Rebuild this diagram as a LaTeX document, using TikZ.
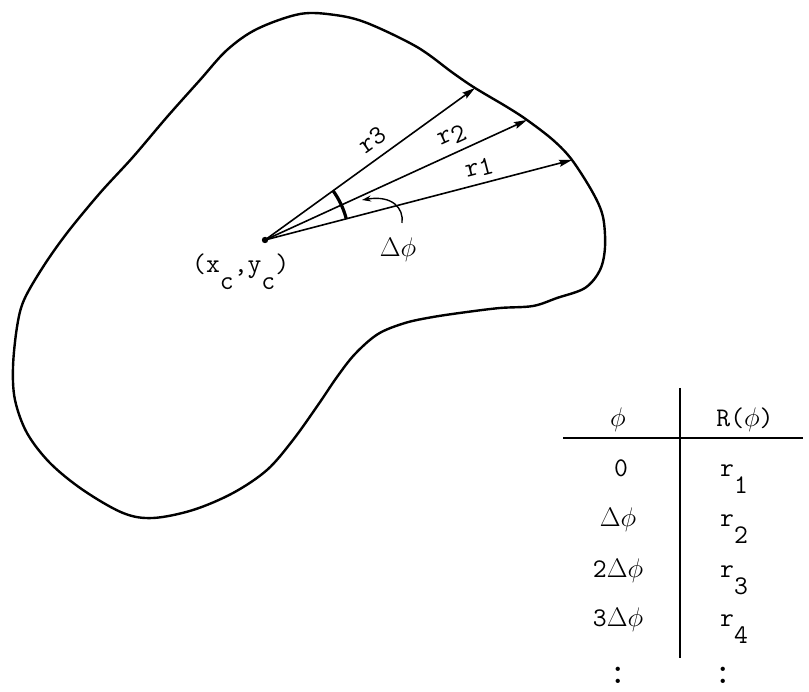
\documentclass[tikz,border=0pt]{standalone}
\usepackage{fix-cm}
\usetikzlibrary{arrows.meta}
\newcommand{\lowsub}[1]{\raisebox{-0.6em}{#1}}
\begin{document}
\begin{tikzpicture}[x=1bp,y=1bp,
  outline/.style={line width=2.4bp, line join=round},
  ray/.style={line width=1.6bp, -{Stealth[length=13bp,width=7bp,inset=2bp]}},
  lbl/.style={font=\fontsize{27}{32}\selectfont\ttfamily, inner sep=0pt},
  dotsstyle/.style={font=\fontsize{38}{44}\selectfont\ttfamily, inner sep=0pt},
  rule/.style={line width=2.4bp},
]
\useasboundingbox (0,0) rectangle (809,692);
% outline of the region
\draw[outline] plot[smooth cycle, tension=0.55] coordinates {
 (300,678) (335,677) (367,669) (417,645) (453,619) (475,604) (507,585)
 (527,572) (553,552) (572,532) (593,499) (603,475) (605,445) (600,422)
 (585,404) (557,394) (533,386) (500,384) (467,380) (433,375) (405,369)
 (378,358) (355,338) (337,315) (318,287) (293,252) (267,222) (233,199) (193,182)
 (153,174) (123,179) (83,202) (50,229) (27,259) (15,292) (13,325)
 (17,365) (24,392) (43,425) (67,459) (100,499) (133,535) (167,575)
 (200,612) (227,642) (257,663)};
% centre and radii
\coordinate (C) at (265,452);
\coordinate (E1) at (572,532);
\coordinate (E2) at (527,572);
\coordinate (E3) at (475,604);
\fill (C) circle[radius=3.2bp];
\draw[ray] (C) -- node[lbl, sloped, pos=0.71, above=6bp] (l1) {r\raisebox{-3bp}{1}} (E1);
\draw[ray] (C) -- node[lbl, sloped, pos=0.74, above=7bp] (l2) {r\raisebox{-5bp}{2}} (E2);
\draw[ray] (C) -- node[lbl, sloped, pos=0.56, above=9bp] (l3) {r3} (E3);
% angle arc
\draw[line width=3.2bp] ([shift={(14.6:84)}]C) arc[start angle=14.6, end angle=35.9, radius=84];
% small curved arrow
\coordinate (a0) at (402,469);
\coordinate (a1) at (362,492);
\draw[line width=1.4bp, -{Stealth[length=9bp,width=6bp]}] (a0) .. controls (404,484) and (392,497) .. (a1);
\node[lbl, anchor=base] (dphi) at (398,435) {$\Delta\phi$};
\node[lbl, anchor=base west] (xcyc) at (192,419) {(x\lowsub{c},y\lowsub{c})};
% table
\coordinate (vt) at (680,304);
\coordinate (vb) at (680,34);
\coordinate (hl) at (563,254);
\coordinate (hr) at (803,254);
\draw[rule] (vt) -- (vb);
\draw[rule] (hl) -- (hr);
\node[lbl, anchor=base] (h1) at (618,265) {$\phi$};
\node[lbl, anchor=base] (h2) at (745,265) {R($\phi$)};
\node[lbl, anchor=base] (c10) at (621,215) {0};
\node[lbl, anchor=base] (c11) at (618,165) {$\Delta\phi$};
\node[lbl, anchor=base] (c12) at (618,114) {2$\Delta\phi$};
\node[lbl, anchor=base] (c13) at (618,65) {3$\Delta\phi$};
\node[lbl, anchor=base west] (c20) at (720,215) {r\lowsub{1}};
\node[lbl, anchor=base west] (c21) at (720,165) {r\lowsub{2}};
\node[lbl, anchor=base west] (c22) at (720,114) {r\lowsub{3}};
\node[lbl, anchor=base west] (c23) at (720,65) {r\lowsub{4}};
\node[dotsstyle] (d1) at (618,17) {:};
\node[dotsstyle] (d2) at (723,17) {:};
\end{tikzpicture}
\end{document}
